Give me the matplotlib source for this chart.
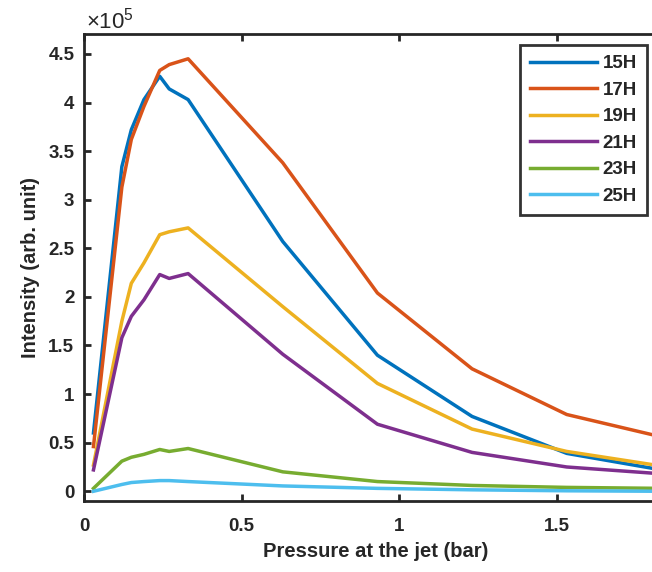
import matplotlib
matplotlib.use("Agg")
import matplotlib.pyplot as plt

plt.rcParams['font.family'] = ['Liberation Sans', 'DejaVu Sans']
plt.rcParams['mathtext.fontset'] = 'custom'
plt.rcParams['mathtext.rm'] = 'Liberation Sans'

pressure = [0.03, 0.12, 0.15, 0.19, 0.24, 0.27, 0.33, 0.63, 0.93, 1.23, 1.53, 1.83]
h15 = [0.60, 3.34, 3.72, 4.03, 4.27, 4.14, 4.03, 2.57, 1.40, 0.77, 0.39, 0.22]
h17 = [0.46, 3.13, 3.62, 3.96, 4.33, 4.39, 4.45, 3.38, 2.04, 1.26, 0.79, 0.56]
h19 = [0.27, 1.75, 2.14, 2.35, 2.64, 2.67, 2.71, 1.90, 1.11, 0.64, 0.41, 0.26]
h21 = [0.22, 1.58, 1.80, 1.97, 2.23, 2.19, 2.24, 1.41, 0.69, 0.40, 0.25, 0.18]
h23 = [0.03, 0.31, 0.35, 0.38, 0.43, 0.41, 0.44, 0.20, 0.10, 0.06, 0.04, 0.03]
h25 = [0.00, 0.07, 0.09, 0.10, 0.11, 0.11, 0.10, 0.055, 0.03, 0.015, 0.005, 0.0]
labels = ['15H', '17H', '19H', '21H', '23H', '25H']
colors = ['#0072BD', '#D95319', '#EDB120', '#7E2F8E', '#77AC30', '#4DBEEE']
xticks = [0, 0.5, 1, 1.5]
xticklabels = ['0', '0.5', '1', '1.5']
yticks = [0, 0.5, 1, 1.5, 2, 2.5, 3, 3.5, 4, 4.5]
yticklabels = ['0', '0.5', '1', '1.5', '2', '2.5', '3', '3.5', '4', '4.5']

fig = plt.figure(figsize=(6.52, 5.72), dpi=100)
left = 84 / 652
bottom = 1 - 501 / 572
top = 1 - 34 / 572
xmax = 1.85
width = xmax * 315.5 / 652
ax = fig.add_axes([left, bottom, width, top - bottom])

for series, lab, c in zip([h15, h17, h19, h21, h23, h25], labels, colors):
    ax.plot(pressure, series, color=c, lw=2.5, label=lab)

ax.set_xlim(0, xmax)
ax.set_ylim(-0.1, 4.705)
ax.set_xticks(xticks)
ax.set_xticklabels(xticklabels)
ax.set_yticks(yticks)
ax.set_yticklabels(yticklabels)
dark = '#262626'
ax.tick_params(direction='in', top=True, right=True, length=5, width=2,
               labelsize=13.5, colors=dark)
ax.tick_params(axis='x', pad=12)
ax.tick_params(axis='y', pad=7)
for lbl in ax.get_xticklabels() + ax.get_yticklabels():
    lbl.set_fontweight('bold')
for s in ax.spines.values():
    s.set_linewidth(2)
    s.set_color(dark)

ax.set_xlabel('Pressure at the jet (bar)', fontsize=14.5, fontweight='bold', color=dark, labelpad=5)
ax.set_ylabel('Intensity (arb. unit)', fontsize=14.5, fontweight='bold', color=dark, labelpad=6)

fig.text(86 / 652, 1 - 29 / 572, r'$\mathregular{\times10^{5}}$', fontsize=16, color=dark)

leg = ax.legend(loc='upper right', bbox_to_anchor=(647 / 652, 1 - 45 / 572),
                bbox_transform=fig.transFigure, frameon=True, fancybox=False,
                edgecolor='black', handlelength=3.55, handletextpad=0.3,
                labelspacing=0.5, borderpad=0.55, borderaxespad=0,
                prop={'weight': 'bold', 'size': 13.5})
leg.get_frame().set_linewidth(2)
for t in leg.get_texts():
    t.set_color(dark)

fig.savefig('out.png', dpi=100)
